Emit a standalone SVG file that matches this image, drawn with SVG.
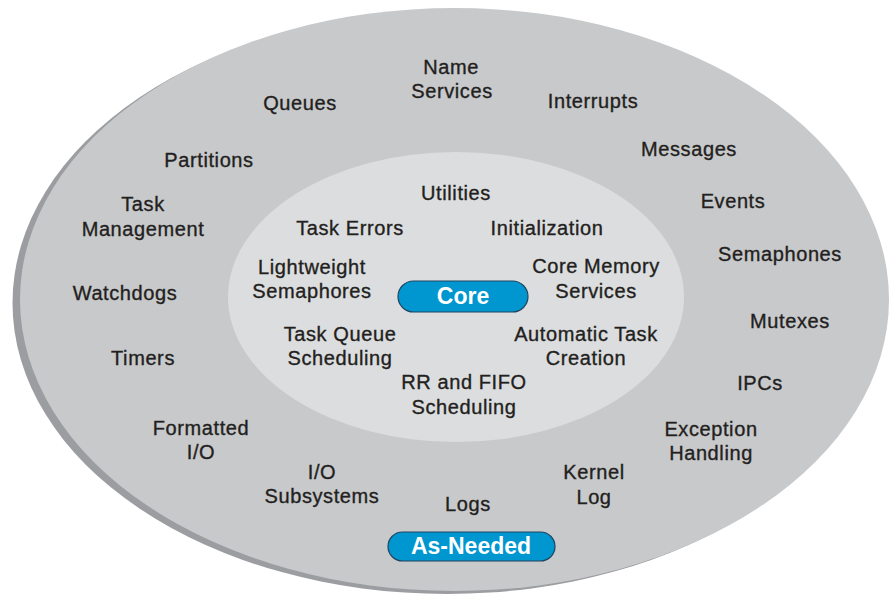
<svg xmlns="http://www.w3.org/2000/svg" width="892" height="594" viewBox="0 0 892 594">
<style>
.t{font-family:"Liberation Sans",Arial,sans-serif;font-size:20px;fill:#231f20;stroke:#231f20;stroke-width:0.35;letter-spacing:0.6px;text-anchor:middle}
.p{fill:#0096d0;stroke:#1f4560;stroke-width:1.2}
.pt{font-family:"Liberation Sans",Arial,sans-serif;font-size:23px;font-weight:bold;fill:#fff;text-anchor:middle}
</style>
<rect width="892" height="594" fill="#fff"/>
<g id="outer">
<ellipse cx="447" cy="303" rx="434.5" ry="291" fill="#9c9da0"/>
<ellipse cx="454.5" cy="299.5" rx="434.5" ry="291.5" fill="#c8c9cb"/>
</g>
<g id="inner">
<ellipse cx="456" cy="297" rx="228" ry="145" fill="#dcddde"/>
</g>
<g id="connectors"></g>
<g id="core-label">
<rect class="p" x="398" y="281" width="130" height="31" rx="15.5"/>
<text class="pt" x="463" y="304">Core</text>
</g>
<g id="asneeded-label">
<rect class="p" x="388" y="532" width="167" height="29" rx="14.5"/>
<text class="pt" x="471" y="554">As-Needed</text>
</g>
<g id="as-needed">
<text class="t" x="451" y="74">Name</text>
<text class="t" x="452" y="98">Services</text>
<text class="t" x="300" y="110">Queues</text>
<text class="t" x="593" y="108">Interrupts</text>
<text class="t" x="689" y="156">Messages</text>
<text class="t" x="209" y="167">Partitions</text>
<text class="t" x="733" y="208">Events</text>
<text class="t" x="143" y="211">Task</text>
<text class="t" x="143" y="236">Management</text>
<text class="t" x="780" y="261">Semaphones</text>
<text class="t" x="125" y="300">Watchdogs</text>
<text class="t" x="790" y="328">Mutexes</text>
<text class="t" x="143" y="365">Timers</text>
<text class="t" x="760" y="390">IPCs</text>
<text class="t" x="201" y="435">Formatted</text>
<text class="t" x="201" y="459">I/O</text>
<text class="t" x="711" y="436">Exception</text>
<text class="t" x="711" y="460">Handling</text>
<text class="t" x="322" y="479">I/O</text>
<text class="t" x="322" y="503">Subsystems</text>
<text class="t" x="594" y="479">Kernel</text>
<text class="t" x="594" y="504">Log</text>
<text class="t" x="468" y="511">Logs</text>
</g>
<g id="core">
<text class="t" x="456" y="200">Utilities</text>
<text class="t" x="350" y="235">Task Errors</text>
<text class="t" x="547" y="235">Initialization</text>
<text class="t" x="312" y="274">Lightweight</text>
<text class="t" x="312" y="298">Semaphores</text>
<text class="t" x="596" y="273">Core Memory</text>
<text class="t" x="596" y="298">Services</text>
<text class="t" x="340" y="341">Task Queue</text>
<text class="t" x="340" y="365">Scheduling</text>
<text class="t" x="586" y="341">Automatic Task</text>
<text class="t" x="586" y="365">Creation</text>
<text class="t" x="464" y="389">RR and FIFO</text>
<text class="t" x="464" y="414">Scheduling</text>
</g>
</svg>
